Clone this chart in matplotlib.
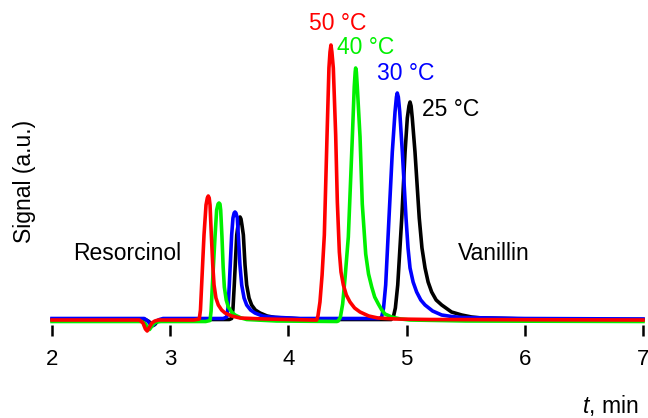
import matplotlib
matplotlib.use("Agg")
import matplotlib.pyplot as plt

plt.rcParams["font.family"] = ["Liberation Sans", "DejaVu Sans"]
plt.rcParams["mathtext.fontset"] = "custom"
plt.rcParams["mathtext.it"] = "Liberation Sans:italic"
plt.rcParams["mathtext.rm"] = "Liberation Sans"

# Chromatogram traces (time in min, signal in a.u.)
t_50 = [2.0, 2.74, 2.77, 2.79, 2.805, 2.82, 2.845, 2.87, 2.9, 3.2,
        3.246, 3.256, 3.266, 3.286, 3.303, 3.314, 3.322, 3.330, 3.337, 3.348,
        3.360, 3.371, 3.387, 3.407, 3.435, 3.464, 3.52, 3.591, 3.8, 4.2,
        4.239, 4.25, 4.267, 4.285, 4.304, 4.327, 4.343, 4.352, 4.360, 4.368,
        4.380, 4.400, 4.414, 4.431, 4.445, 4.465, 4.49, 4.521, 4.56, 4.606,
        4.68, 4.758, 4.9, 5.2, 7.0]
s_50 = [0, 0, -3, -9, -11, -8, -3, -1, 0, 0,
        1, 10, 35, 85, 115, 122, 124, 122, 115, 85,
        55, 35, 22, 15, 10, 7, 4, 2, 1, 0,
        0, 4, 18, 45, 85, 185, 252, 268, 275, 268,
        252, 185, 118, 68, 48, 35, 25, 18, 12, 8,
        4, 2, 1, 0.5, 0]

t_40 = [2.0, 2.76, 2.79, 2.81, 2.825, 2.84, 2.865, 2.89, 2.92, 3.3,
        3.337, 3.346, 3.356, 3.379, 3.393, 3.405, 3.413, 3.421, 3.427, 3.438,
        3.448, 3.458, 3.474, 3.492, 3.52, 3.548, 3.6, 3.647, 3.9, 4.41,
        4.422, 4.44, 4.459, 4.48, 4.507, 4.541, 4.557, 4.565, 4.569, 4.575,
        4.583, 4.606, 4.625, 4.654, 4.678, 4.705, 4.73, 4.761, 4.79, 4.817,
        4.874, 4.95, 5.03, 5.5, 7.0]
s_40 = [-1.5, -1.5, -4, -8, -9.5, -7, -3, -2, -1.5, -1.5,
        -0.5, 9, 33, 83, 110, 116, 117, 116, 110, 83,
        53, 33, 20, 13, 8, 5, 2, 0.5, -1, -1.5,
        -1, 3, 16, 43, 83, 183, 233, 248, 252, 248,
        233, 183, 116, 66, 46, 33, 23, 16, 10, 6,
        3, 1, 0, -1, -1.5]

t_30 = [2.0, 2.78, 2.81, 2.83, 2.845, 2.86, 2.885, 2.91, 2.94, 3.45,
        3.478, 3.489, 3.500, 3.520, 3.531, 3.541, 3.548, 3.556, 3.568, 3.576,
        3.590, 3.605, 3.625, 3.647, 3.68, 3.717, 3.78, 3.844, 4.1, 4.77,
        4.789, 4.805, 4.823, 4.851, 4.879, 4.902, 4.914, 4.921, 4.930, 4.942,
        4.964, 4.995, 5.012, 5.029, 5.055, 5.085, 5.12, 5.156, 5.22, 5.297,
        5.38, 5.466, 6.0, 7.0]
s_30 = [1.5, 1.5, -1, -4, -6, -5, -1, 0.5, 1.5, 1.5,
        3, 12, 35, 85, 102, 107, 108, 107, 102, 85,
        55, 35, 22, 15, 10, 7, 4, 3, 1.5, 1.5,
        3, 12, 35, 102, 168, 208, 223, 227, 223, 208,
        168, 102, 72, 52, 38, 28, 20, 15, 9, 5,
        3.5, 2.5, 1.5, 1]

t_25 = [2.0, 2.79, 2.82, 2.84, 2.855, 2.87, 2.895, 2.92, 2.95, 3.5,
        3.520, 3.531, 3.542, 3.563, 3.574, 3.584, 3.591, 3.599, 3.607, 3.619,
        3.633, 3.647, 3.667, 3.689, 3.72, 3.760, 3.82, 3.887, 4.2, 4.87,
        4.888, 4.905, 4.925, 4.959, 4.987, 5.006, 5.02, 5.029, 5.038, 5.048,
        5.071, 5.107, 5.13, 5.156, 5.182, 5.212, 5.25, 5.297, 5.38, 5.466,
        5.55, 5.635, 6.2, 7.0]
s_25 = [0.5, 0.5, -1.5, -4, -5.5, -4.5, -1, 0, 0.5, 0.5,
        1.5, 11, 35, 85, 95, 101, 103, 101, 95, 85,
        55, 35, 22, 15, 10, 7, 4, 2.5, 0.5, 0.5,
        3, 12, 35, 102, 168, 202, 214, 218, 214, 202,
        168, 102, 72, 52, 38, 28, 20, 15, 8, 5,
        3, 2, 0.5, 0.5]

x_ticks = [2, 3, 4, 5, 6, 7]

fig = plt.figure(figsize=(6.48, 4.18), dpi=100)
ax = fig.add_axes([52 / 648, 93 / 418, 591 / 648, 305 / 418])

lw = 2.6
ax.plot(t_25, s_25, color="black", linewidth=lw, clip_on=False)
ax.plot(t_30, s_30, color="#0000FF", linewidth=lw, clip_on=False)
ax.plot(t_40, s_40, color="#00F000", linewidth=lw, clip_on=False)
ax.plot(t_50, s_50, color="#FF0000", linewidth=lw, clip_on=False)

ax.set_xlim(2, 7)
ax.set_ylim(-5, 300)
ax.set_xticks(x_ticks)
ax.set_yticks([])
ax.tick_params(axis="x", direction="out", length=8, width=1.8, pad=9, labelsize=16)
for sp in ax.spines.values():
    sp.set_visible(False)

fs = 16.5
ax.text(4.42, 296, "50 °C", color="#FF0000", fontsize=fs, ha="center", va="center")
ax.text(4.656, 272, "40 °C", color="#00F000", fontsize=fs, ha="center", va="center")
ax.text(4.995, 247, "30 °C", color="#0000FF", fontsize=fs, ha="center", va="center")
ax.text(5.376, 210, "25 °C", color="black", fontsize=fs, ha="center", va="center")
ax.text(2.635, 67, "Resorcinol", color="black", fontsize=fs, ha="center", va="center")
ax.text(5.74, 67, "Vanillin", color="black", fontsize=fs, ha="center", va="center")

fig.text(24 / 648, 1 - 181 / 418, "Signal (a.u.)", fontsize=16.5, rotation=90,
         ha="center", va="center")
fig.text(638 / 648, 1 - 405 / 418, "$t$, min", fontsize=16.5, ha="right", va="center")

fig.savefig("out.png", dpi=100)
